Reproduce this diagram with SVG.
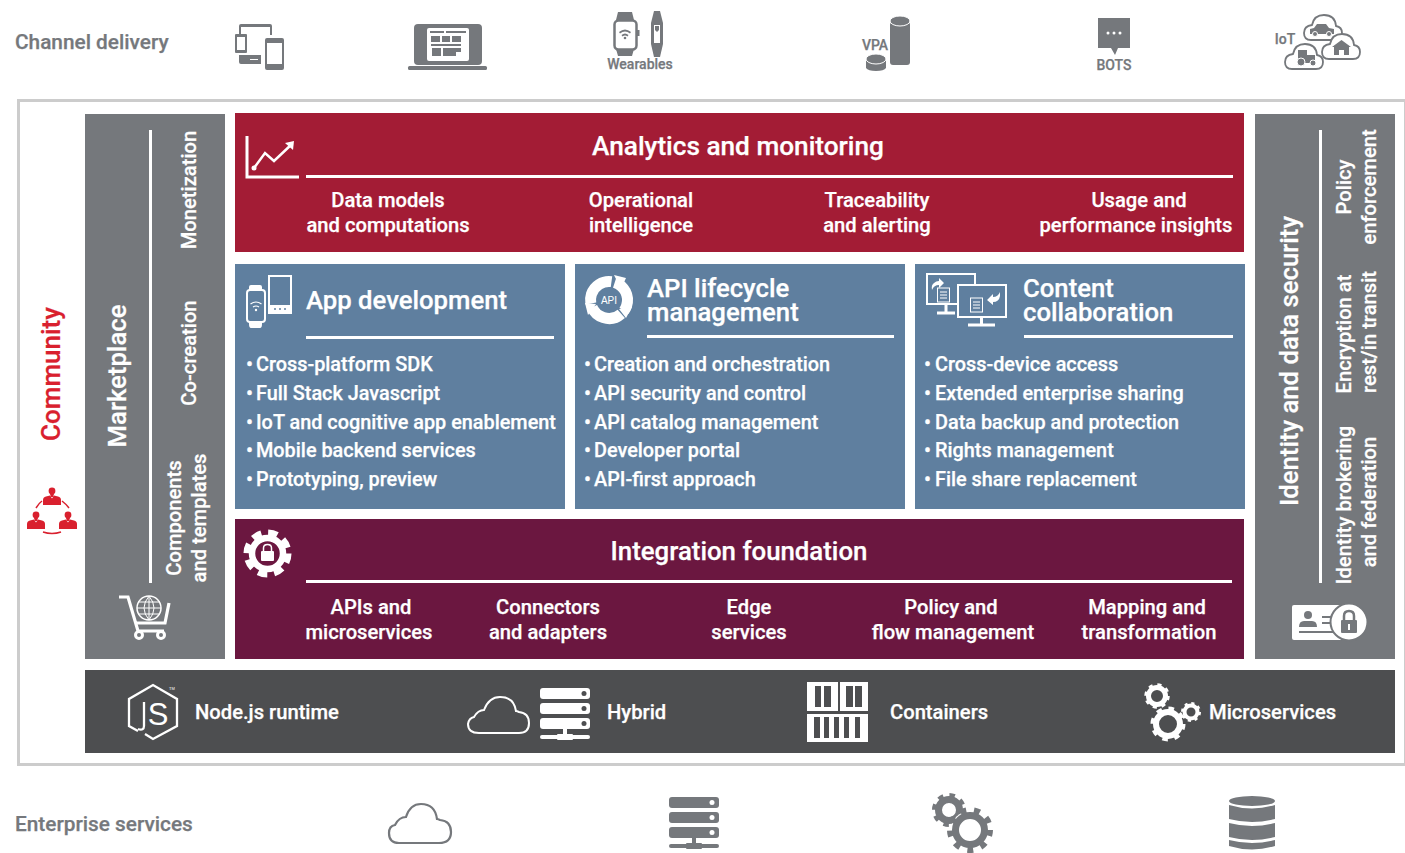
<svg xmlns="http://www.w3.org/2000/svg" width="1405" height="853" viewBox="0 0 1405 853">
<style>
text{font-family:Roboto,"Liberation Sans",sans-serif;font-weight:500;fill:#fff;stroke:#fff;stroke-width:.25}
.g{fill:#75787c}
.gt{fill:#75787c;stroke:#75787c;font-size:20.800px}
.sm{fill:#75787c;stroke:#75787c;font-size:14px}
.t26{font-size:25.700px}
.t20{font-size:20.200px}
.li{font-size:19.850px}
.t21{font-size:20.200px}
.c{text-anchor:middle}
.w{fill:#fff}
.wl{fill:none;stroke:#fff;stroke-width:2}
.gl{fill:#fff;stroke:#75787c;stroke-width:1.800}
.thin{font-family:"Liberation Sans",sans-serif;font-weight:400;stroke:none}
</style>
<defs>
<g id="person"><circle cx="0" cy="-6" r="3.400"/><path d="M-2-3h4l-1 3h-2zM-9 8v-5q0-3 3-3.500l4-1 2 3 2-3 4 1q3 .5 3 3.500v5z"/></g>
<g id="server"><rect x="0" y="0" width="50" height="11" rx="3"/><rect x="0" y="15" width="50" height="11" rx="3"/><rect x="0" y="30" width="50" height="11" rx="3"/><rect x="23" y="41" width="4" height="8"/><rect x="0" y="47" width="50" height="4" rx="2"/><rect x="17" y="46" width="16" height="6" rx="1"/></g>
<path id="cloud" d="M8 26H32Q39 26 39 19Q39 13 33 12Q32 1 21 1Q11 1 9 11Q1 12 1 19Q1 26 8 26Z"/>
</defs>

<rect id="frame" x="18.500" y="100.500" width="1387" height="664" fill="none" stroke="#ccc" stroke-width="3"/>

<g id="channel-delivery">
<text class="gt" x="15" y="49">Channel delivery</text>
<g id="ch-devices" class="g">
<path d="M239 34v-8q0-2 2-2h29q2 0 2 2v9h-2v-8h-29v7zM239 55h22v9h-20q-2 0-2-2zM250 59v1h8v-1z"/>
<path fill-rule="evenodd" d="M236 34h10q1 0 1 1v17q0 1-1 1h-10q-1 0-1-1v-17q0-1 1-1zM237 37v13h8v-13z"/>
<path fill-rule="evenodd" d="M267 38h15q2 0 2 2v28q0 2-2 2h-15q-2 0-2-2v-28q0-2 2-2zM267 43v21h15v-21z"/>
</g>
<g id="ch-laptop" class="g">
<rect x="414" y="24" width="68" height="41" rx="4"/>
<rect x="408" y="66" width="79" height="4" rx="1.500"/>
<rect x="427" y="28" width="42" height="33" rx="2" fill="#fff"/>
<path d="M430 31h14v2h-14zM446 31h20v2h-20zM431 36h9v6h-9zM442 36h8v6h-8zM452 36h9v6h-9zM431 44h30v2h-30zM432 48h9v8h-9zM443 48h18v4h-5v4h-13z"/>
</g>
<g id="ch-wearables" class="g">
<path d="M618 12h14l2 8h-18zM616 49h18l-2 7h-14z"/>
<rect x="614.500" y="20.500" width="22" height="29" rx="4" fill="#fff" stroke="#75787c" stroke-width="2.500"/>
<rect x="637" y="30" width="2.500" height="6"/>
<path d="M619 32q6-5 12 0l-1 1.500q-5-4-10 0zM621.500 35q3.500-3 7 0l-1 1.500q-2.500-2-5 0z"/><circle cx="625" cy="38" r="1.300"/>
<path d="M654 11h6l3 12v21l-3 13h-6l-3-13v-21z"/>
<rect x="654" y="25" width="6" height="18" fill="#fff"/><path d="M655 26h4v4l-2 2-2-2z"/>
<text class="sm c" x="640" y="69">Wearables</text>
</g>
<g id="ch-vpa" class="g">
<text class="sm c" x="875" y="50">VPA</text>
<rect x="890" y="22" width="20" height="43" rx="3"/>
<ellipse cx="900" cy="21" rx="10" ry="5" stroke="#fff"/>
<path d="M866 59h20v9q-2 3-10 3t-10-3z"/>
<ellipse cx="876" cy="59" rx="10" ry="5" stroke="#fff"/>
</g>
<g id="ch-bots" class="g">
<path d="M1098 18h32v30h-12l-3 7-4-7h-13z"/>
<circle cx="1108" cy="33" r="1.500" fill="#fff"/><circle cx="1114" cy="33" r="1.500" fill="#fff"/><circle cx="1120" cy="33" r="1.500" fill="#fff"/>
<text class="sm c" x="1114" y="70">BOTS</text>
</g>
<g id="ch-iot" class="g">
<text class="sm c" x="1285" y="44">IoT</text>
<use href="#cloud" transform="translate(1303 14)" style="fill:#fff;stroke:#75787c;stroke-width:1.800"/>
<path d="M1310 29l4-1 3-4h9l3 4 5 1v5h-24z"/><circle cx="1315" cy="34" r="2.500" stroke="#fff"/><circle cx="1329" cy="34" r="2.500" stroke="#fff"/>
<use href="#cloud" transform="translate(1321 33)" style="fill:#fff;stroke:#75787c;stroke-width:1.800"/>
<path d="M1332 47l9.500-7 9.500 7h-2v8h-5v-5h-5v5h-5v-8z"/>
<use href="#cloud" transform="translate(1284 43)" style="fill:#fff;stroke:#75787c;stroke-width:1.800"/>
<path d="M1298 50h9v5h8v8h-17z"/><circle cx="1301" cy="62" r="4" stroke="#fff"/><circle cx="1313" cy="63" r="3" stroke="#fff"/>
</g>
</g>

<g id="community">
<text transform="translate(60 374) rotate(-90)" class="c" style="font-size:26px;fill:#d9202e;stroke:#d9202e">Community</text>
<g fill="#d9202e"><use href="#person" x="52" y="497"/><use href="#person" x="36" y="521"/><use href="#person" x="68" y="521"/></g>
<path d="M36 508q3-5 6-7M62 501q4 3 7 7M43 532q9 3 18 0" fill="none" stroke="#d9202e" stroke-width="1.500"/>
</g>

<g id="marketplace">
<rect x="85" y="114" width="140" height="545" class="g"/>
<text transform="translate(126 376) rotate(-90)" class="c t26">Marketplace</text>
<rect x="149" y="130" width="3" height="453" class="w"/>
<text transform="translate(196 190) rotate(-90)" class="c t20">Monetization</text>
<text transform="translate(196 353) rotate(-90)" class="c t20">Co-creation</text>
<text transform="translate(181 518) rotate(-90)" class="c t20">Components</text>
<text transform="translate(206 518) rotate(-90)" class="c t20">and templates</text>
<g id="cart">
<path d="M119 597h9l10 34h26" class="wl" style="stroke-width:3.200"/>
<path d="M135 623h30l4-20" class="wl" style="stroke-width:3.200"/>
<circle cx="149" cy="608" r="12" class="wl" style="stroke-width:1.500"/>
<path d="M137 608h24M138 602h22M138 614h22M149 596v24M149 596q-10 12 0 24M149 596q10 12 0 24" class="wl" style="stroke-width:1"/>
<circle cx="139" cy="635" r="3.500" class="wl" style="stroke-width:3"/><circle cx="161" cy="635" r="3.500" class="wl" style="stroke-width:3"/>
</g>
</g>

<g id="analytics">
<rect x="235" y="113" width="1009" height="139" fill="#a31c35"/>
<text class="c" style="font-size:26.200px" x="738" y="155">Analytics and monitoring</text>
<rect x="306" y="175" width="927" height="3" class="w"/>
<path d="M247 136v41h52" class="wl" style="stroke-width:3"/>
<path d="M254 168l11-15 9 8 18-17" class="wl" style="stroke-width:2.500"/><path d="M285 143l9-2-1 9z" class="w"/><circle cx="254" cy="168" r="2.500" class="w"/>
<g class="t20">
<text class="c" x="388" y="207">Data models</text><text class="c" x="388" y="232">and computations</text>
<text class="c" x="641" y="207">Operational</text><text class="c" x="641" y="232">intelligence</text>
<text class="c" x="877" y="207">Traceability</text><text class="c" x="877" y="232">and alerting</text>
<text class="c" x="1139" y="207">Usage and</text><text class="c" x="1136" y="232">performance insights</text>
</g>
</g>

<g id="app-development">
<rect x="235" y="264" width="330" height="245" fill="#5f7f9f"/>
<text class="t26" x="306" y="309">App development</text>
<rect x="306" y="336" width="248" height="3" class="w"/>
<path d="M269 286v-10h22v37h-22z" class="wl"/>
<rect x="269" y="305" width="22" height="8" class="w"/>
<g fill="#5f7f9f"><circle cx="275" cy="309" r="1"/><circle cx="280" cy="309" r="1"/><circle cx="285" cy="309" r="1"/></g>
<path d="M249 287q0-2 2-2h9q2 0 2 2v3h-13zM249 321h13v3q0 4-2 4h-9q-2 0-2-4z" class="w"/>
<rect x="247" y="290" width="18" height="32" rx="3" fill="#5f7f9f" stroke="#fff" stroke-width="2"/>
<path d="M250.500 304q5.500-4 11 0M253 307q3-2 6 0" class="wl" style="stroke-width:1.200"/><circle cx="256" cy="310" r="1.200" class="w"/>
<g class="li">
<text x="246" y="371">•</text><text x="256" y="371">Cross-platform SDK</text>
<text x="246" y="400">•</text><text x="256" y="400">Full Stack Javascript</text>
<text x="246" y="429">•</text><text x="256" y="429">IoT and cognitive app enablement</text>
<text x="246" y="457">•</text><text x="256" y="457">Mobile backend services</text>
<text x="246" y="486">•</text><text x="256" y="486">Prototyping, preview</text>
</g>
</g>

<g id="api-lifecycle">
<rect x="575" y="264" width="330" height="245" fill="#5f7f9f"/>
<text class="t26" x="647" y="297">API lifecycle</text>
<text class="t26" x="647" y="321">management</text>
<rect x="647" y="335" width="247" height="3" class="w"/>
<circle cx="609" cy="300" r="18.500" fill="none" stroke="#fff" stroke-width="11" stroke-dasharray="34.700 4" transform="rotate(-72 609 300)"/>
<path d="M614 275l12 3-5 11zM632 307l-6 11-7-9zM588 315l-3-12 11 1z" class="w"/>
<text x="609" y="304" class="c thin" style="font-size:10px">API</text>
<g class="li">
<text x="584" y="371">•</text><text x="594" y="371">Creation and orchestration</text>
<text x="584" y="400">•</text><text x="594" y="400">API security and control</text>
<text x="584" y="429">•</text><text x="594" y="429">API catalog management</text>
<text x="584" y="457">•</text><text x="594" y="457">Developer portal</text>
<text x="584" y="486">•</text><text x="594" y="486">API-first approach</text>
</g>
</g>

<g id="content-collaboration">
<rect x="915" y="264" width="330" height="245" fill="#5f7f9f"/>
<text class="t26" x="1023" y="297">Content</text>
<text class="t26" x="1023" y="321">collaboration</text>
<rect x="1024" y="335" width="209" height="3" class="w"/>
<path d="M957 304h-30v-30h48v11" class="wl"/><path d="M937 313h18M946 305v8" class="wl" style="stroke-width:3"/>
<rect x="958" y="285" width="48" height="32" fill="#5f7f9f" stroke="#fff" stroke-width="2"/><path d="M968 325h27M981.500 317v8" class="wl" style="stroke-width:3"/>
<path d="M932 290q-1-5 2-7 2-2 5-2v-3l5 5-5 5v-3q-5 0-7 5z" class="w"/>
<rect x="937.500" y="288" width="12" height="14" fill="#5f7f9f" stroke="#fff"/><path d="M940 292h7M940 295h7M940 298h7" class="wl" style="stroke-width:1"/>
<rect x="970.500" y="298" width="12" height="14" fill="#5f7f9f" stroke="#fff"/><path d="M973 302h7M973 305h7M973 308h7" class="wl" style="stroke-width:1"/>
<path d="M987 300l6 5v-3q6 0 7-6v-4q-2 5-7 5v-3z" class="w"/>
<g class="li">
<text x="924" y="371">•</text><text x="935" y="371">Cross-device access</text>
<text x="924" y="400">•</text><text x="935" y="400">Extended enterprise sharing</text>
<text x="924" y="429">•</text><text x="935" y="429">Data backup and protection</text>
<text x="924" y="457">•</text><text x="935" y="457">Rights management</text>
<text x="924" y="486">•</text><text x="935" y="486">File share replacement</text>
</g>
</g>

<g id="integration">
<rect x="235" y="519" width="1009" height="140" fill="#6b1740"/>
<text class="c" style="font-size:25.800px" x="739" y="560">Integration foundation</text>
<rect x="306" y="580" width="926" height="3" class="w"/>
<circle cx="267.500" cy="553.500" r="21" fill="none" stroke="#fff" stroke-width="6" stroke-dasharray="9.500 7"/>
<circle cx="267.500" cy="553.500" r="15.500" fill="none" stroke="#fff" stroke-width="6.500"/>
<rect x="261" y="551" width="13" height="10" rx="1" class="w"/><path d="M263.500 551v-3q0-3.500 4-3.500t4 3.500v3" class="wl" style="stroke-width:1.500"/>
<g class="t20">
<text class="c" x="371" y="614">APIs and</text><text class="c" x="369" y="639">microservices</text>
<text class="c" x="548" y="614">Connectors</text><text class="c" x="548" y="639">and adapters</text>
<text class="c" x="749" y="614">Edge</text><text class="c" x="749" y="639">services</text>
<text class="c" x="951" y="614">Policy and</text><text class="c" x="953" y="639">flow management</text>
<text class="c" x="1147" y="614">Mapping and</text><text class="c" x="1149" y="639">transformation</text>
</g>
</g>

<g id="identity">
<rect x="1255" y="114" width="140" height="545" class="g"/>
<text transform="translate(1298 361) rotate(-90)" class="c t26">Identity and data security</text>
<rect x="1319" y="130" width="3" height="453" class="w"/>
<g class="t20">
<text transform="translate(1351 187) rotate(-90)" class="c">Policy</text>
<text transform="translate(1376 187) rotate(-90)" class="c">enforcement</text>
<text transform="translate(1351 334) rotate(-90)" class="c">Encryption at</text>
<text transform="translate(1376 332) rotate(-90)" class="c">rest/in transit</text>
<text transform="translate(1351 505) rotate(-90)" class="c">Identity brokering</text>
<text transform="translate(1376 502) rotate(-90)" class="c">and federation</text>
</g>
<g id="id-card">
<rect x="1292" y="605" width="50" height="35" rx="2" class="w"/>
<g fill="#75787c"><circle cx="1308" cy="615" r="4"/><path d="M1299 627q0-6 5-6h8q5 0 5 6z"/><rect x="1299" y="631" width="42" height="2"/><rect x="1322" y="616" width="12" height="2"/><rect x="1322" y="622" width="12" height="2"/></g>
<circle cx="1349" cy="622" r="18.500" class="w" stroke="#75787c" stroke-width="2"/>
<rect x="1341" y="620" width="16" height="13" rx="1" fill="#75787c"/>
<path d="M1344 620v-4q0-5 5-5t5 5v4" fill="none" stroke="#75787c" stroke-width="2.500"/>
<path d="M1348 624h2v6h-2z" class="w"/>
</g>
</g>

<g id="runtime">
<rect x="85" y="670" width="1310" height="83" fill="#4d4e50"/>
<g id="rt-node">
<path d="M138 731l-9-5v-27l24-14 24 14v27l-24 13-8-5" class="wl" style="stroke-width:2.300"/>
<path d="M144 702v24q0 5-6 3" class="wl" style="stroke-width:2.300"/>
<text x="158" y="725" class="c thin" style="font-size:31px">S</text>
<text x="172" y="690" class="c thin" style="font-size:4px">TM</text>
<text x="195" y="719" class="t21">Node.js runtime</text>
</g>
<g id="rt-hybrid">
<path d="M479 733h40q10 0 10-10t-10-11q-2-1-3-1-2-14-16-14-11 0-16 13-6 0-10 7-5 1-6 7 0 9 11 9z" class="wl"/>
<use href="#server" x="540" y="688" fill="#fff"/>
<g fill="#4d4e50"><circle cx="584" cy="693.500" r="2.500"/><circle cx="584" cy="708.500" r="2.500"/><circle cx="584" cy="723.500" r="2.500"/></g>
<text x="607" y="719" class="t21">Hybrid</text>
</g>
<g id="rt-containers">
<rect x="807" y="682" width="31" height="29" class="w"/><rect x="840" y="682" width="28" height="29" class="w"/><rect x="807" y="714" width="61" height="28" class="w"/>
<g fill="#4d4e50"><rect x="815" y="686" width="6" height="21"/><rect x="824" y="686" width="7" height="21"/><rect x="846" y="686" width="7" height="21"/><rect x="855" y="686" width="7" height="21"/>
<rect x="814" y="717" width="6" height="21"/><rect x="824" y="717" width="5" height="21"/><rect x="834" y="717" width="5" height="21"/><rect x="844" y="717" width="5" height="21"/><rect x="855" y="717" width="5" height="21"/></g>
<text x="890" y="719" class="t21">Containers</text>
</g>
<g id="rt-micro" fill="none" stroke="#fff">
<circle cx="1157" cy="696" r="8.500" stroke-width="5"/><circle cx="1157" cy="696" r="11" stroke-width="3.500" stroke-dasharray="4 4.640"/>
<circle cx="1168" cy="724" r="12" stroke-width="6"/><circle cx="1168" cy="724" r="15.500" stroke-width="4" stroke-dasharray="5.500 6.670"/>
<circle cx="1191" cy="712" r="6.500" stroke-width="4"/><circle cx="1191" cy="712" r="8.500" stroke-width="3" stroke-dasharray="3 3.680"/>
<text x="1209" y="719" class="t21">Microservices</text>
</g>
</g>

<g id="enterprise-services">
<text class="gt" x="15" y="831">Enterprise services</text>
<path id="es-cloud" d="M399 843h40q12 0 12-11t-11-12q-2-1-3-1-2-15-16-15-11 0-15 13-7 0-11 8-6 1-6 8 0 10 10 10z" fill="none" stroke="#75787c" stroke-width="2.200"/>
<g id="es-server"><use href="#server" x="669" y="797" class="g"/><g fill="#fff"><circle cx="712" cy="802.500" r="2.500"/><circle cx="712" cy="817.500" r="2.500"/><circle cx="712" cy="832.500" r="2.500"/></g></g>
<g id="es-gears" fill="none" stroke="#75787c">
<circle cx="949" cy="810" r="10.500" stroke-width="7"/><circle cx="949" cy="810" r="15" stroke-width="4" stroke-dasharray="5.500 6.280"/>
<circle cx="970" cy="830" r="19" fill="#fff" stroke="none"/>
<circle cx="970" cy="830" r="14.500" stroke-width="7"/><circle cx="970" cy="830" r="20" stroke-width="6" stroke-dasharray="6 7.960"/>
</g>
<g id="es-db" class="g">
<ellipse cx="1252" cy="801" rx="23" ry="5"/>
<path d="M1229 805q23 7 46 0v14q-23 6-46 0zM1229 823q23 6 46 0v14q-23 6-46 0z"/>
<path d="M1229 840q23 6 46 0v6q-23 7-46 0z"/>
</g>
</g>
</svg>
